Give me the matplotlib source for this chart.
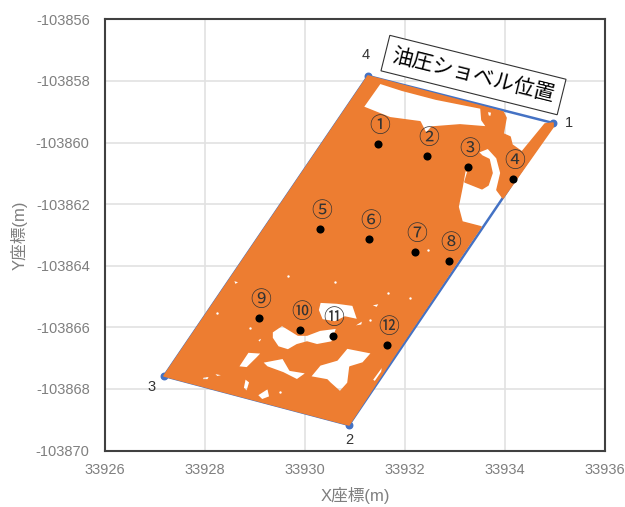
import numpy as np
import matplotlib
matplotlib.use('Agg')
import matplotlib.pyplot as plt
from matplotlib.path import Path
from matplotlib.patches import PathPatch

plt.rcParams['font.family'] = ['Liberation Sans', 'Noto Sans CJK JP', 'DejaVu Sans']
plt.rcParams['axes.unicode_minus'] = False

y0 = -103856  # the hole lists below hold depth below this

# excavator corners 1,2,3,4
corner_x = [33934.97, 33930.88, 33927.18, 33931.26]
corner_y = [-103859.37, -103869.17, -103867.58, -103857.84]
corner_names = ['1', '2', '3', '4']

# outline of the point cloud
cloud_x = [33931.26, 33933.96, 33934.02, 33933.96, 33934.10, 33934.14, 33934.34, 33934.80,
           33934.96, 33934.96, 33933.96, 33933.84, 33933.92, 33933.84, 33933.66, 33933.46,
           33933.54, 33933.68, 33933.74, 33933.66, 33933.54, 33933.20, 33933.26, 33933.20,
           33933.14, 33933.06, 33933.14, 33933.52, 33933.30, 33931.82, 33930.98, 33930.88,
           33927.18]
cloud_y = [-103857.84, -103859.01, -103859.20, -103859.72, -103859.82, -103860.08, -103860.31, -103859.40,
           -103859.37, -103859.50, -103861.80, -103861.54, -103860.99, -103860.50, -103860.18, -103860.31,
           -103860.44, -103860.55, -103860.99, -103861.38, -103861.50, -103861.28, -103860.95, -103860.89,
           -103861.44, -103862.09, -103862.58, -103862.74, -103863.26, -103866.83, -103868.92, -103869.17,
           -103867.58]

# gaps in the cloud: (x list, depth list)
hole_top = ([33931.50, 33931.94, 33932.62, 33933.52, 33933.54, 33933.64, 33933.10, 33932.54, 33932.42, 33932.30, 33931.70, 33931.16],
            [2.07, 2.30, 2.59, 2.88, 3.27, 3.50, 3.43, 3.50, 3.72, 3.33, 3.20, 2.85])
hole_pin = ([33933.64, 33933.74, 33933.72, 33933.66], [2.98, 3.01, 3.17, 3.14])
hole_a = ([33930.30, 33930.64, 33930.96, 33931.06, 33930.80, 33930.60, 33930.34, 33930.26],
          [9.18, 9.21, 9.28, 9.76, 9.67, 9.83, 9.76, 9.44])
hole_b = ([33929.34, 33929.54, 33929.86, 33930.04, 33930.30, 33930.64, 33930.54, 33930.24, 33930.04, 33929.84, 33929.66, 33929.46, 33929.34],
          [10.15, 9.93, 10.25, 10.25, 10.09, 10.02, 10.48, 10.57, 10.48, 10.57, 10.74, 10.64, 10.35])
hole_c = ([33930.84, 33931.34, 33931.16, 33930.90, 33930.86, 33930.70, 33930.50, 33930.44, 33930.10, 33930.30, 33930.64],
          [10.67, 10.83, 11.16, 11.29, 11.81, 12.10, 11.81, 11.71, 11.61, 11.22, 11.06])
hole_d = ([33929.14, 33929.56, 33929.70, 33930.04, 33929.84, 33929.56, 33929.24],
          [11.13, 11.00, 11.39, 11.48, 11.71, 11.48, 11.29])
hole_e = ([33928.66, 33928.86, 33929.14, 33929.04, 33928.84], [11.29, 10.80, 10.83, 11.00, 11.32])
hole_f = ([33928.80, 33928.90, 33928.84, 33928.76], [11.65, 11.78, 12.10, 11.97])
hole_g = ([33929.04, 33929.26, 33929.30, 33929.14], [12.20, 11.97, 12.26, 12.36])
hole_h = ([33931.34, 33931.56, 33931.54, 33931.40], [11.71, 11.22, 11.45, 11.78])
hole_i = ([33931.06, 33931.20, 33931.06, 33930.98], [12.43, 12.13, 12.48, 12.62])
hole_j = ([33927.96, 33928.10, 33928.06, 33927.94], [11.61, 11.58, 11.71, 11.71])
hole_k = ([33928.16, 33928.40, 33928.24], [11.48, 11.55, 11.61])
hole_l = ([33931.30, 33931.50, 33931.44], [9.28, 9.21, 9.37])
hole_m = ([33928.56, 33928.70, 33928.60], [8.46, 8.53, 8.63])
hole_n = ([33929.04, 33929.16, 33929.10], [10.41, 10.31, 10.51])
hole_o = ([33930.94, 33931.16, 33931.14], [9.99, 9.76, 9.93])
hole_p = ([33927.76, 33927.90, 33927.84], [11.78, 11.78, 11.84])
holes = [hole_top, hole_pin, hole_a, hole_b, hole_c, hole_d, hole_e, hole_f, hole_g, hole_h,
         hole_i, hole_j, hole_k, hole_l, hole_m, hole_n, hole_o, hole_p]

# single white specks
speck_x = [33932.46, 33929.66, 33931.66, 33930.60, 33928.24, 33931.30, 33929.50, 33928.90, 33932.10]
speck_y = [-103863.49, -103864.33, -103864.89, -103864.53, -103865.54, -103865.76, -103868.10, -103866.02, -103865.05]

# measuring points
point_x = [33931.47, 33932.45, 33933.27, 33934.16, 33930.31, 33931.29, 33932.21, 33932.89, 33929.08, 33929.90, 33930.55, 33931.64]
point_y = [-103860.05, -103860.43, -103860.80, -103861.18, -103862.81, -103863.14, -103863.56, -103863.86, -103865.71, -103866.09, -103866.28, -103866.58]
point_names = ['①', '②', '③', '④', '⑤', '⑥', '⑦', '⑧', '⑨', '⑩', '⑪', '⑫']

x_ticks = [33926, 33928, 33930, 33932, 33934, 33936]
y_ticks = [-103856, -103858, -103860, -103862, -103864, -103866, -103868, -103870]


def ring(xs, ys, ccw):
    # nonzero winding: holes have to run against the outline
    pts = np.column_stack([np.array(xs) - 33926.0, np.array(ys) - y0])
    area = np.sum(pts[:, 0] * np.roll(pts[:, 1], -1) - np.roll(pts[:, 0], -1) * pts[:, 1])
    if (area > 0) != ccw:
        pts = pts[::-1]
    pts = pts + [33926.0, y0]
    codes = [Path.MOVETO] + [Path.LINETO] * (len(pts) - 1) + [Path.CLOSEPOLY]
    return np.vstack([pts, pts[0]]), codes


fig = plt.figure(figsize=(6.25, 5.07), dpi=100)
ax = fig.add_axes([105 / 625, 1 - 450.5 / 507, 500 / 625, 431.2 / 507])

verts, codes = ring(cloud_x, cloud_y, True)
all_verts = [verts]
all_codes = list(codes)
for hx, hd in holes:
    v, c = ring(hx, [y0 - d for d in hd], False)
    all_verts.append(v)
    all_codes += c

ax.plot(corner_x + corner_x[:1], corner_y + corner_y[:1], color='#4472c4', lw=1.8, zorder=2)
ax.scatter(corner_x, corner_y, s=22, color='#4472c4', zorder=2)
ax.add_patch(PathPatch(Path(np.vstack(all_verts), all_codes), facecolor='#ed7d31', edgecolor='#ed7d31',
                       lw=1.2, joinstyle='round', zorder=3))
ax.scatter(speck_x, speck_y, s=3, color='white', zorder=4, linewidths=0)
ax.scatter(point_x, point_y, s=34, color='black', zorder=5, linewidths=0)

for px, py, name in zip(point_x, point_y, point_names):
    ax.annotate(name, (px, py), xytext=(1, 13), textcoords='offset points', ha='center', va='center',
                fontsize=15, color='#333333', zorder=6, family=['Noto Sans CJK JP', 'DejaVu Sans'])

corner_offset = [(11, 0), (0, -11), (-9, -8), (-2, 15)]
for cx, cy, name, off in zip(corner_x, corner_y, corner_names, corner_offset):
    ax.annotate(name, (cx, cy), xytext=off, textcoords='offset points', ha='center', va='center',
                fontsize=10.5, color='#333333', zorder=6)

ax.text(33933.37, -103857.81, '油圧ショベル位置', rotation=-14, rotation_mode='anchor', ha='center', va='center',
        fontsize=15, color='black', zorder=7, family=['Noto Sans CJK JP', 'DejaVu Sans'],
        bbox=dict(boxstyle='square,pad=0.35', facecolor='white', edgecolor='#333333', lw=0.8))

ax.set_xlim(33926, 33936)
ax.set_ylim(-103870, -103856)
ax.set_xticks(x_ticks)
ax.set_yticks(y_ticks)
ax.set_xticklabels([str(t) for t in x_ticks])
ax.set_yticklabels([str(t) for t in y_ticks])
ax.tick_params(axis='y', length=0, labelsize=10.5, labelcolor='#7f7f7f', pad=11)
ax.tick_params(axis='x', length=0, labelsize=10.5, labelcolor='#7f7f7f', pad=9)
ax.grid(True, color='#e2e2e2', lw=1.2, zorder=0)
ax.set_axisbelow(True)
for s in ax.spines.values():
    s.set_color('#404040')
    s.set_linewidth(1.5)

ax.set_xlabel('X座標(m)', fontsize=12, color='#7f7f7f', labelpad=7)
ax.set_ylabel('Y座標(m)', fontsize=12, color='#7f7f7f', labelpad=6)

plt.savefig('out.png', dpi=100)
